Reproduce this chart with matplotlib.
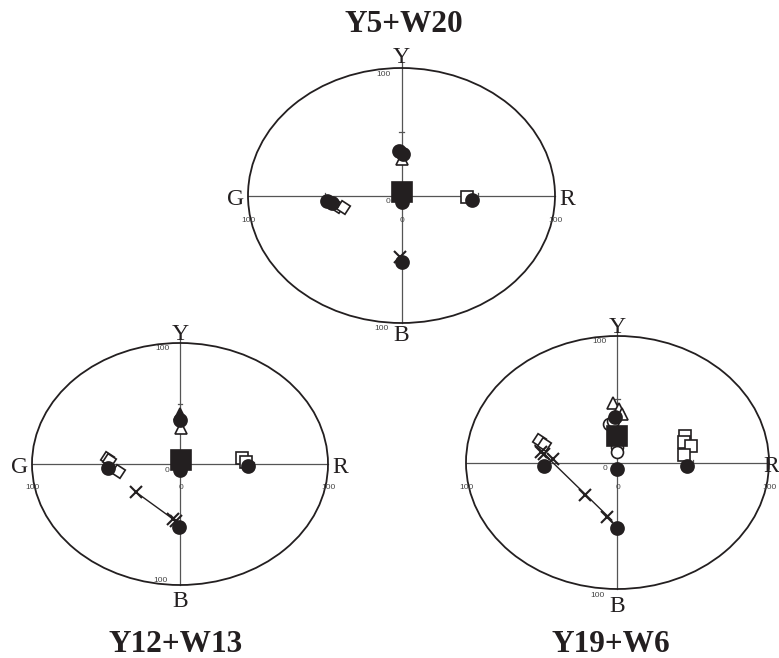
import matplotlib
matplotlib.use("Agg")
import matplotlib.pyplot as plt
from matplotlib.patches import Ellipse

# ---------------- data (hue-circle coordinates, -100..100) ----------------
titles = ["Y5+W20", "Y12+W13", "Y19+W6"]
axis_letters = ["Y", "B", "G", "R"]
tick_labels = ["100", "0"]

# Panel 1: Y5+W20
p1_filled_square_x = [0]
p1_filled_square_y = [3]
p1_filled_circle_x = [0, -1.6, 1.2, -48.3, -45.5, 45.7, 0]
p1_filled_circle_y = [-5, 35, 32.5, -4.3, -6.1, -3.5, -52]
p1_open_triangle_x = [0]
p1_open_triangle_y = [28.5]
p1_open_diamond_x = [-41.8, -38.3]
p1_open_diamond_y = [-8.0, -8.8]
p1_open_square_x = [42.9]
p1_open_square_y = [-1.4]
p1_cross_x = [-1]
p1_cross_y = [-48]

# Panel 2: Y12+W13
p2_filled_square_x = [0.5]
p2_filled_square_y = [3.3]
p2_filled_circle_x = [0, 0, 45.7, -48.4, -0.5]
p2_filled_circle_y = [-5, 36, -1.4, -3.6, -51.8]
p2_filled_triangle_x = [0]
p2_filled_triangle_y = [41]
p2_open_triangle_x = [0.5]
p2_open_triangle_y = [29.5]
p2_open_square_x = [42.2, 44.6]
p2_open_square_y = [5.0, 1.7]
p2_open_diamond_x = [-49.5, -48.0, -41.9]
p2_open_diamond_y = [5.0, 3.5, -5.8]
p2_cross_x = [-29.5, -4.5, -3.0]
p2_cross_y = [-23.5, -45.5, -47.0]
p2_line_x = [-29.5, -3.0]
p2_line_y = [-23.5, -47.0]

# Panel 3: Y19+W6
p3_open_circle_x = [-5.4, -3.0, -0.5, -0.5]
p3_open_circle_y = [30.8, 33.0, 12.3, 8.4]
p3_filled_square_x = [0]
p3_filled_square_y = [20.6]
p3_filled_circle_x = [-1.7, 0, 45.7, -48.5, -0.5]
p3_filled_circle_y = [36, -5.5, -2.9, -2.9, -51.4]
p3_open_triangle_x = [-2.8, 1.2, 2.8]
p3_open_triangle_y = [47.1, 41.9, 38.7]
p3_open_square_x = [44.8, 43.9, 48.3, 43.7]
p3_open_square_y = [20.8, 16.3, 12.9, 6.3]
p3_open_diamond_x = [-51.8, -48.5]
p3_open_diamond_y = [17.6, 14.7]
p3_cross_x = [-50.5, -48.5, -42.4, -21.5, -7.2]
p3_cross_y = [8.6, 6.8, 2.4, -25.8, -43.0]
p3_line_x = [-54.5, -3.8]
p3_line_y = [13.7, -45.5]

# ---------------- layout ----------------
W, H = 779, 658
fig = plt.figure(figsize=(W / 100, H / 100), dpi=100)
fig.patch.set_facecolor("white")

INK = "#231f20"
AX = "#555555"
SERIF = ["Liberation Serif", "DejaVu Serif"]
SANS = ["Liberation Sans", "DejaVu Sans"]


def make_axes(x0, x1, y0, y1):
    ax = fig.add_axes([x0 / W, 1 - y1 / H, (x1 - x0) / W, (y1 - y0) / H])
    ax.set_xlim(-100, 100)
    ax.set_ylim(-100, 100)
    ax.axis("off")
    return ax


def frame(ax, lab, show_g=True):
    ax.add_patch(Ellipse((0, 0), 200, 200, fill=False, ec=INK, lw=1.3,
                         clip_on=False, zorder=2))
    ax.plot([0, 0], [-100, 104], color=AX, lw=0.9, clip_on=False, zorder=1)
    ax.plot([-100, 100], [0, 0], color=AX, lw=0.9, clip_on=False, zorder=1)
    for v in (-50, 50):
        ax.plot([-1.5, 1.5], [v, v], color=AX, lw=0.9, zorder=1)
        ax.plot([v, v], [-2, 2], color=AX, lw=0.9, zorder=1)
    ltr = dict(fontfamily=SERIF, fontsize=17, color=INK, ha="center",
               va="center", clip_on=False)
    ax.text(0, lab["Y"], axis_letters[0], **ltr)
    ax.text(0, lab["B"], axis_letters[1], **ltr)
    if show_g:
        ax.text(-lab["G"], -3, axis_letters[2], **ltr)
    ax.text(lab["R"], -3, axis_letters[3], **ltr)
    num = dict(fontfamily=SANS, fontsize=6, color="#444444", ha="center",
               va="center", clip_on=False)
    ax.text(-12, lab["top100"], tick_labels[0], **num)
    ax.text(-13, lab["bot100"], tick_labels[0], **num)
    ax.text(-99.5, -19.5, tick_labels[0], **num)
    ax.text(100, -19.5, tick_labels[0], **num)
    ax.text(-8.5, -5, tick_labels[1], **num)
    ax.text(0.5, -19.5, tick_labels[1], **num)


def pts(ax, x, y, marker, ms, filled=True, mew=1.2, z=3):
    if marker == "x":
        ax.plot(x, y, ls="none", marker="x", ms=ms, mew=1.5, color=INK,
                zorder=z)
    else:
        ax.plot(x, y, ls="none", marker=marker, ms=ms,
                mfc=INK if filled else "white", mec=INK, mew=mew, zorder=z)


DIAM = (4, 0, 12)

# Panel 1
ax1 = make_axes(248, 555, 68, 323)
frame(ax1, dict(Y=108, B=-110, G=108, R=108, top100=95, bot100=-104))
pts(ax1, p1_open_diamond_x, p1_open_diamond_y, DIAM, 10, filled=False)
pts(ax1, p1_open_square_x, p1_open_square_y, "s", 8.5, filled=False)
pts(ax1, p1_open_triangle_x, p1_open_triangle_y, "^", 9, filled=False)
pts(ax1, p1_filled_circle_x, p1_filled_circle_y, "o", 9.4)
pts(ax1, p1_filled_square_x, p1_filled_square_y, "s", 14.4)
pts(ax1, p1_cross_x, p1_cross_y, "x", 9)

# Panel 2
ax2 = make_axes(32, 328, 343, 585)
frame(ax2, dict(Y=107, B=-114, G=108.5, R=108.5, top100=95.5, bot100=-96))
ax2.plot(p2_line_x, p2_line_y, color=INK, lw=1.0, zorder=2)
pts(ax2, p2_open_diamond_x, p2_open_diamond_y, DIAM, 10, filled=False)
pts(ax2, p2_open_square_x, p2_open_square_y, "s", 8.5, filled=False)
pts(ax2, p2_open_triangle_x, p2_open_triangle_y, "^", 9, filled=False)
pts(ax2, p2_filled_triangle_x, p2_filled_triangle_y, "^", 9)
pts(ax2, p2_filled_circle_x, p2_filled_circle_y, "o", 9.4)
pts(ax2, p2_filled_square_x, p2_filled_square_y, "s", 14.4)
pts(ax2, p2_cross_x, p2_cross_y, "x", 9)

# Panel 3
ax3 = make_axes(466, 769, 336, 589)
frame(ax3, dict(Y=107, B=-114, G=108, R=101.5, top100=96, bot100=-105),
      show_g=False)
ax3.plot(p3_line_x, p3_line_y, color=INK, lw=1.0, zorder=2)
pts(ax3, p3_open_diamond_x, p3_open_diamond_y, DIAM, 10, filled=False)
pts(ax3, p3_open_square_x, p3_open_square_y, "s", 8.5, filled=False)
pts(ax3, p3_open_triangle_x, p3_open_triangle_y, "^", 9, filled=False)
pts(ax3, p3_open_circle_x, p3_open_circle_y, "o", 8.6, filled=False)
pts(ax3, p3_filled_circle_x, p3_filled_circle_y, "o", 9.4)
pts(ax3, p3_filled_square_x, p3_filled_square_y, "s", 14.4)
pts(ax3, p3_cross_x, p3_cross_y, "x", 9)

# Titles
tt = dict(fontfamily=SERIF, fontsize=22.5, fontweight="bold", color=INK,
          ha="center", va="center")
fig.text(404 / W, 1 - 24 / H, titles[0], **tt)
fig.text(176 / W, 1 - 644 / H, titles[1], **tt)
fig.text(611 / W, 1 - 644 / H, titles[2], **tt)

fig.savefig("out.png", dpi=100, facecolor="white")
